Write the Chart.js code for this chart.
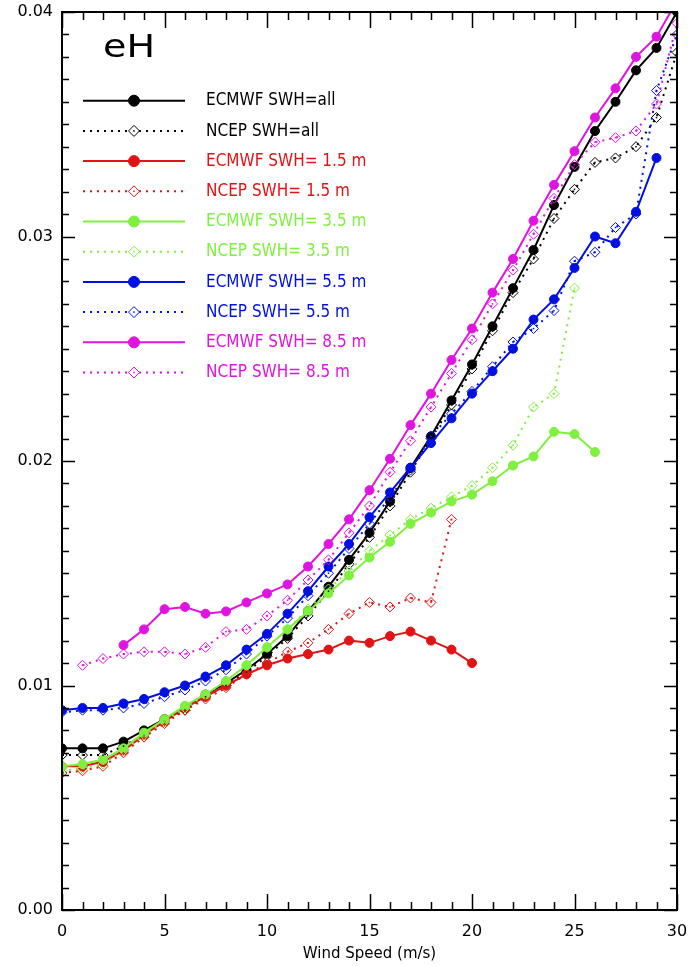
<!DOCTYPE html>
<html><head><meta charset="utf-8">
<script src="https://cdn.jsdelivr.net/npm/chart.js@4/dist/chart.umd.min.js"></script>
<style>html,body{margin:0;padding:0;background:#fff;}#wrap{width:696px;height:966px;}</style>
</head><body><div id="wrap"><canvas id="c" width="696" height="966"></canvas></div>
<script>
const windSpeed = [0,1,2,3,4,5,6,7,8,9,10,11,12,13,14,15,16,17,18,19,20,21,22,23,24,25,26,27,28,29,30];
const xTickValues = [0,5,10,15,20,25,30];
const yTickValues = [0,0.01,0.02,0.03,0.04];
const panelLabel = 'eH';
const xTitle = 'Wind Speed (m/s)';

const ecmwfAll = [0.0072,0.0072,0.0072,0.0075,0.0080,0.0085,0.0090,0.0096,0.0101,0.0107,0.0114,0.0122,0.0133,0.0144,0.0156,0.0168,0.0182,0.0197,0.0211,0.0227,0.0243,0.0260,0.0277,0.0294,0.0314,0.0331,0.0347,0.0360,0.0374,0.0384,0.0400];
const ncepAll = [0.0069,0.0069,0.0069,0.0073,0.0078,0.0084,0.0089,0.0095,0.0100,0.0106,0.0113,0.0121,0.0131,0.0142,0.0154,0.0166,0.0180,0.0195,0.0210,0.0225,0.0241,0.0258,0.0275,0.0290,0.0308,0.0321,0.0333,0.0335,0.0340,0.0353,0.0382];
const ecmwf15 = [0.0064,0.0064,0.0066,0.0071,0.0078,0.0084,0.0090,0.0095,0.0100,0.0105,0.0109,0.0112,0.0114,0.0116,0.0120,0.0119,0.0122,0.0124,0.0120,0.0116,0.0110,null,null,null,null,null,null,null,null,null,null];
const ncep15 = [0.0061,0.0062,0.0064,0.0070,0.0077,0.0083,0.0089,0.0094,0.0099,0.0105,0.0110,0.0115,0.0119,0.0125,0.0132,0.0137,0.0135,0.0139,0.0137,0.0174,null,null,null,null,null,null,null,null,null,null,null];
const ecmwf35 = [0.0064,0.0065,0.0067,0.0072,0.0079,0.0085,0.0091,0.0096,0.0102,0.0109,0.0117,0.0125,0.0133,0.0141,0.0149,0.0157,0.0164,0.0172,0.0177,0.0182,0.0185,0.0191,0.0198,0.0202,0.0213,0.0212,0.0204,null,null,null,null];
const ncep35 = [0.0062,0.0063,0.0065,0.0071,0.0078,0.0084,0.0090,0.0096,0.0102,0.0109,0.0117,0.0125,0.0134,0.0143,0.0151,0.0160,0.0167,0.0174,0.0179,0.0184,0.0189,0.0197,0.0207,0.0224,0.0230,0.0277,null,null,null,null,null];
const ecmwf55 = [0.0089,0.0090,0.0090,0.0092,0.0094,0.0097,0.0100,0.0104,0.0109,0.0116,0.0123,0.0132,0.0142,0.0153,0.0163,0.0175,0.0186,0.0197,0.0208,0.0219,0.0230,0.0240,0.0250,0.0263,0.0272,0.0286,0.0300,0.0297,0.0311,0.0335,null];
const ncep55 = [0.0088,0.0089,0.0089,0.0090,0.0092,0.0095,0.0098,0.0102,0.0107,0.0114,0.0122,0.0130,0.0140,0.0150,0.0161,0.0172,0.0184,0.0196,0.0211,0.0221,0.0231,0.0242,0.0253,0.0259,0.0267,0.0289,0.0293,0.0304,0.0310,0.0365,0.0390];
const ecmwf85 = [null,null,null,0.0118,0.0125,0.0134,0.0135,0.0132,0.0133,0.0137,0.0141,0.0145,0.0153,0.0163,0.0174,0.0187,0.0201,0.0216,0.0230,0.0245,0.0259,0.0275,0.0290,0.0307,0.0323,0.0338,0.0353,0.0366,0.0380,0.0389,0.0405];
const ncep85 = [null,0.0109,0.0112,0.0114,0.0115,0.0115,0.0114,0.0117,0.0124,0.0125,0.0131,0.0138,0.0147,0.0156,0.0168,0.0180,0.0195,0.0209,0.0224,0.0239,0.0254,0.0270,0.0285,0.0301,0.0317,0.0332,0.0342,0.0344,0.0347,0.0359,0.0395];

const seriesLabels = ['ECMWF SWH=all','NCEP SWH=all','ECMWF SWH= 1.5 m','NCEP SWH= 1.5 m','ECMWF SWH= 3.5 m','NCEP SWH= 3.5 m','ECMWF SWH= 5.5 m','NCEP SWH= 5.5 m','ECMWF SWH= 8.5 m','NCEP SWH= 8.5 m'];
const seriesValues = [ecmwfAll,ncepAll,ecmwf15,ncep15,ecmwf35,ncep35,ecmwf55,ncep55,ecmwf85,ncep85];
const seriesColors = ['#000000','#000000','#e01414','#e01414','#80f040','#80f040','#0010e0','#0010e0','#e014e0','#e014e0'];

const DOT_DASH = [2,5];
const datasets = seriesValues.map((vals, i) => {
  const isNcep = i % 2 === 1;
  return {
    label: seriesLabels[i],
    data: windSpeed.map((x, j) => ({x: x, y: vals[j]})),
    borderColor: seriesColors[i],
    backgroundColor: isNcep ? 'rgba(0,0,0,0)' : seriesColors[i],
    pointBackgroundColor: isNcep ? 'rgba(255,255,255,0)' : seriesColors[i],
    pointBorderColor: seriesColors[i],
    borderWidth: 2,
    borderDash: isNcep ? DOT_DASH : [],
    pointStyle: isNcep ? 'rectRot' : 'circle',
    pointRadius: isNcep ? 5 : 4.5,
    pointBorderWidth: 1,
    pointHoverRadius: 4.5,
    tension: 0,
    spanGaps: false,
    fill: false,
    order: 20 - i
  };
});

const frameTicks = {
  id: 'frameTicks',
  afterDatasetsDraw(chart) {
    const ctx = chart.ctx, a = chart.chartArea;
    ctx.save();
    chart.data.datasets.forEach((ds, i) => {
      if (i % 2 !== 1) return;
      const meta = chart.getDatasetMeta(i);
      ctx.fillStyle = ds.borderColor;
      meta.data.forEach(pt => {
        if (pt.skip) return;
        if (pt.y < a.top || pt.y > a.bottom) return;
        ctx.fillRect(pt.x - 0.75, pt.y - 0.75, 1.5, 1.5);
      });
    });
    ctx.restore();
  },
  afterDraw(chart) {
    const ctx = chart.ctx, a = chart.chartArea;
    const xs = chart.scales.x, ys = chart.scales.y;
    ctx.save();
    ctx.strokeStyle = '#000';
    ctx.lineWidth = 2;
    ctx.strokeRect(a.left, a.top, a.right - a.left, a.bottom - a.top);
    ctx.lineWidth = 1.5;
    ctx.beginPath();
    for (let v = xs.min; v <= xs.max + 1e-9; v += 1) {
      const px = Math.round(xs.getPixelForValue(v)) + 0.5;
      const len = (Math.round(v) % 5 === 0) ? 16 : 8;
      ctx.moveTo(px, a.bottom); ctx.lineTo(px, a.bottom - len);
      ctx.moveTo(px, a.top); ctx.lineTo(px, a.top + len);
    }
    for (let k = 0; k <= 40; k++) {
      const v = k * 0.001;
      const py = Math.round(ys.getPixelForValue(v)) + 0.5;
      const len = (k % 10 === 0) ? 13 : 7;
      ctx.moveTo(a.left, py); ctx.lineTo(a.left + len, py);
      ctx.moveTo(a.right, py); ctx.lineTo(a.right - len, py);
    }
    ctx.stroke();

    ctx.fillStyle = '#000';
    ctx.font = '38px "DejaVu Sans"';
    ctx.textBaseline = 'alphabetic';
    ctx.textAlign = 'left';
    ctx.save();
    ctx.translate(103, 57);
    ctx.scale(1, 0.82);
    ctx.fillText(panelLabel, 0, 0);
    ctx.restore();

    chart.data.datasets.forEach((ds, i) => {
      const y = 100.7 + 30.2 * i;
      ctx.save();
      ctx.strokeStyle = ds.borderColor;
      ctx.lineWidth = 2;
      ctx.setLineDash(ds.borderDash || []);
      ctx.beginPath();
      ctx.moveTo(83, y); ctx.lineTo(185, y);
      ctx.stroke();
      ctx.setLineDash([]);
      ctx.restore();
      ctx.save();
      if (ds.pointStyle === 'rectRot') {
        ctx.fillStyle = '#fff';
        ctx.beginPath();
        ctx.moveTo(134 - 5.5, y); ctx.lineTo(134, y - 5.5); ctx.lineTo(134 + 5.5, y); ctx.lineTo(134, y + 5.5); ctx.closePath();
        ctx.fill();
      }
      ctx.strokeStyle = ds.borderColor;
      ctx.fillStyle = ds.pointBackgroundColor;
      ctx.lineWidth = 1;
      Chart.helpers.drawPoint(ctx, {pointStyle: ds.pointStyle, radius: 5.5, rotation: 0, borderWidth: 1}, 134, y);
      if (ds.pointStyle === 'rectRot') {
        ctx.fillStyle = ds.borderColor;
        ctx.fillRect(134 - 0.75, y - 0.75, 1.5, 1.5);
      }
      ctx.restore();
      ctx.save();
      ctx.fillStyle = ds.borderColor;
      ctx.font = '15px "DejaVu Sans"';
      ctx.textBaseline = 'middle';
      ctx.textAlign = 'left';
      ctx.translate(206, y);
      ctx.scale(1.02, 1.2);
      ctx.fillText(ds.label, 0, 0);
      ctx.restore();
    });
    ctx.restore();
  }
};

new Chart(document.getElementById('c'), {
  type: 'line',
  data: { datasets: datasets },
  options: {
    responsive: false,
    devicePixelRatio: 1,
    animation: false,
    layout: { padding: { top: 12, right: 19, left: 0, bottom: 0 } },
    plugins: { legend: { display: false }, tooltip: { enabled: false }, title: { display: false } },
    scales: {
      x: {
        type: 'linear', min: 0, max: 30,
        afterBuildTicks: s => { s.ticks = xTickValues.map(v => ({value: v})); },
        afterFit: s => { s.height = 56; s.paddingLeft = 0; s.paddingRight = 0; },
        grid: { display: false, drawTicks: false },
        border: { display: false },
        ticks: { color: '#000', font: { family: 'DejaVu Sans', size: 16 }, padding: 12, maxRotation: 0, callback: v => String(v) },
        title: { display: true, text: xTitle, color: '#000', font: { family: 'DejaVu Sans', size: 15 }, padding: { top: 0, bottom: 3 } }
      },
      y: {
        type: 'linear', min: 0, max: 0.04,
        afterBuildTicks: s => { s.ticks = yTickValues.map(v => ({value: v})); },
        afterFit: s => { s.width = 62; s.paddingTop = 0; s.paddingBottom = 0; },
        grid: { display: false, drawTicks: false },
        border: { display: false },
        ticks: { color: '#000', font: { family: 'DejaVu Sans', size: 16 }, padding: 9, callback: v => Number(v).toFixed(2) }
      }
    }
  },
  plugins: [frameTicks]
});
</script>
</body></html>
